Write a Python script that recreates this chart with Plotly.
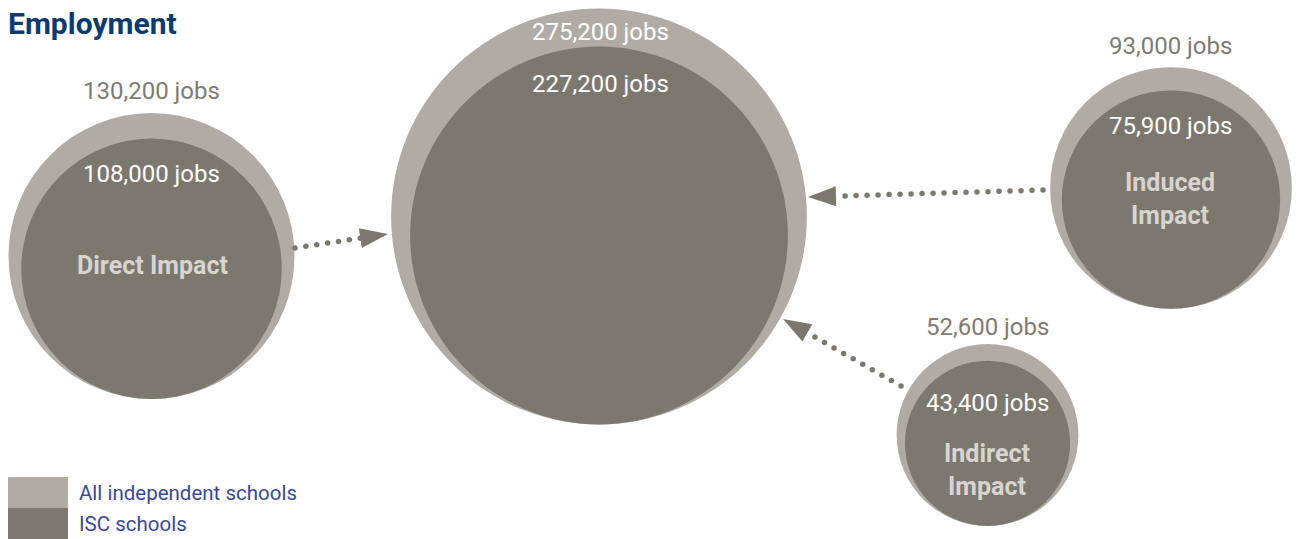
import numpy as np
import plotly.graph_objects as go

# Employment figures (jobs)
categories = ["Direct Impact", "Total", "Induced Impact", "Indirect Impact"]
all_independent = [130200, 275200, 93000, 52600]
isc_schools = [108000, 227200, 75900, 43400]
inner_titles = ["Direct Impact", "", "Induced<br>Impact", "Indirect<br>Impact"]

# Layout of the bubbles (pixel space)
centers = [(151.5, 256), (599, 216.5), (1171, 188), (987.5, 435)]
SCALE = 0.3963  # radius per sqrt(job)

LIGHT = "#b0aca5"
DARK = "#7c7870"
LABEL_GREY = "#7f7b74"
FONT = "Roboto, Liberation Sans, sans-serif"

W, H = 1299, 539

def radius(v):
    return SCALE * np.sqrt(v)

def fmt(v):
    return f"{v:,} jobs"

shapes = []
annotations = []

for i, (cx, cy) in enumerate(centers):
    R = radius(all_independent[i])
    r = radius(isc_schools[i])
    icy = cy + (R - r)  # inner bubble rests on the outer bubble's base
    shapes.append(dict(type="circle", xref="x", yref="y", x0=cx - R, x1=cx + R,
                       y0=cy - R, y1=cy + R, fillcolor=LIGHT, line=dict(width=0), layer="below"))
    shapes.append(dict(type="circle", xref="x", yref="y", x0=cx - r, x1=cx + r,
                       y0=icy - r, y1=icy + r, fillcolor=DARK, line=dict(width=0), layer="below"))

# value labels
outer_label_pos = [(151.5, 91), (600, 32), (1170, 46), (987, 327)]
inner_label_pos = [(151.5, 174), (600, 84), (1170, 126), (987, 403)]
outer_label_col = [LABEL_GREY, "white", LABEL_GREY, LABEL_GREY]
for i in range(len(categories)):
    x, y = outer_label_pos[i]
    annotations.append(dict(x=x, y=y, text=fmt(all_independent[i]), showarrow=False,
                            xanchor="center", yanchor="middle",
                            font=dict(family=FONT, size=24, color=outer_label_col[i])))
    x, y = inner_label_pos[i]
    annotations.append(dict(x=x, y=y, text=fmt(isc_schools[i]), showarrow=False,
                            xanchor="center", yanchor="middle",
                            font=dict(family=FONT, size=24, color="white")))

title_pos = [(152, 265), None, (1170, 199), (987, 470)]
for i, t in enumerate(inner_titles):
    if not t:
        continue
    x, y = title_pos[i]
    annotations.append(dict(x=x, y=y, text=f"<b>{t}</b>", showarrow=False,
                            xanchor="center", yanchor="middle",
                            font=dict(family=FONT, size=25, color="#d8d5d1")))

# dotted arrows pointing to the total bubble
arrows = [((295, 248), (388, 234)), ((1043, 190), (808, 197)), ((901, 386), (783, 319))]
HEAD_LEN, HEAD_HALF, STEP = 28, 10, 11
dot_x, dot_y = [], []
for (tx, ty), (hx, hy) in arrows:
    d = np.array([hx - tx, hy - ty], dtype=float)
    L = np.hypot(*d)
    u = d / L
    n = np.array([-u[1], u[0]])
    base = np.array([hx, hy]) - u * HEAD_LEN
    k = 0
    while k * STEP <= L - HEAD_LEN + 1:
        p = np.array([tx, ty]) + u * k * STEP
        dot_x.append(p[0]); dot_y.append(p[1])
        k += 1
    a = base + n * HEAD_HALF
    b = base - n * HEAD_HALF
    shapes.append(dict(type="path", xref="x", yref="y",
                       path=f"M {hx},{hy} L {a[0]},{a[1]} L {b[0]},{b[1]} Z",
                       fillcolor=DARK, line=dict(width=0)))

fig = go.Figure()
fig.add_trace(go.Scatter(x=dot_x, y=dot_y, mode="markers",
                         marker=dict(size=5.5, color=DARK, line=dict(width=0)),
                         hoverinfo="skip", showlegend=False))

# title
annotations.append(dict(x=6, y=23, text="<b>Employment</b>", showarrow=False,
                        xanchor="left", yanchor="middle",
                        font=dict(family=FONT, size=30, color="#0f3a6b")))

# legend
legend_items = [("All independent schools", LIGHT, 477, 508), ("ISC schools", DARK, 508, 539)]
for text, col, y0, y1 in legend_items:
    shapes.append(dict(type="rect", xref="x", yref="y", x0=8, x1=68, y0=y0, y1=y1,
                       fillcolor=col, line=dict(width=0)))
    annotations.append(dict(x=77, y=(y0 + y1) / 2, text=text, showarrow=False,
                            xanchor="left", yanchor="middle",
                            font=dict(family=FONT, size=20.5, color="#3a4896")))

fig.update_layout(
    width=W, height=H, margin=dict(l=0, r=0, t=0, b=0),
    paper_bgcolor="white", plot_bgcolor="white",
    xaxis=dict(range=[0, W], visible=False, fixedrange=True),
    yaxis=dict(range=[H, 0], visible=False, fixedrange=True),
    shapes=shapes, annotations=annotations,
)

fig.write_html("out.html")
